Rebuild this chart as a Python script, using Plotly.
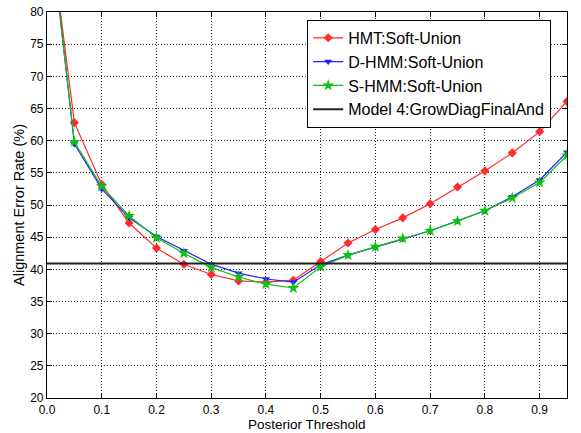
import plotly.graph_objects as go

thresholds = [0.0, 0.05, 0.1, 0.15, 0.2, 0.25, 0.3, 0.35, 0.4, 0.45, 0.5,
              0.55, 0.6, 0.65, 0.7, 0.75, 0.8, 0.85, 0.9, 0.95]
hmt = [96.5, 62.8, 53.2, 47.2, 43.3, 40.8, 39.2, 38.2, 38.0, 38.3, 41.2,
       44.1, 46.2, 48.0, 50.2, 52.8, 55.3, 58.1, 61.4, 66.1]
dhmm = [97.5, 59.5, 52.5, 48.0, 45.1, 42.9, 40.8, 39.4, 38.5, 38.0, 40.7,
        42.2, 43.4, 44.7, 46.0, 47.5, 49.1, 51.3, 53.9, 58.2]
shmm = [97.0, 59.8, 52.9, 48.3, 44.9, 42.5, 40.3, 38.8, 37.7, 37.1, 40.4,
        42.2, 43.5, 44.8, 46.0, 47.5, 49.1, 51.1, 53.5, 57.7]
model4 = 40.9

x_ticks = [0.0, 0.1, 0.2, 0.3, 0.4, 0.5, 0.6, 0.7, 0.8, 0.9]
y_ticks = [20, 25, 30, 35, 40, 45, 50, 55, 60, 65, 70, 75, 80]

fig = go.Figure()
fig.add_trace(go.Scatter(x=thresholds, y=hmt, mode="lines+markers", name="HMT:Soft-Union",
                         line=dict(color="#ff2a2a", width=1.2),
                         marker=dict(symbol="diamond", size=7, color="#ff2a2a")))
fig.add_trace(go.Scatter(x=thresholds, y=dhmm, mode="lines+markers", name="D-HMM:Soft-Union",
                         line=dict(color="#2020ff", width=1.2),
                         marker=dict(symbol="triangle-down", size=7, color="#2020ff")))
fig.add_trace(go.Scatter(x=thresholds, y=shmm, mode="lines+markers", name="S-HMM:Soft-Union",
                         line=dict(color="#10c010", width=1.2),
                         marker=dict(symbol="star", size=9, color="#10c010")))
fig.add_trace(go.Scatter(x=[thresholds[0], thresholds[-1]], y=[model4, model4], mode="lines",
                         name="Model 4:GrowDiagFinalAnd",
                         line=dict(color="#222222", width=2)))

axis_common = dict(
    showline=True, linecolor="black", linewidth=1.2, mirror="ticks",
    ticks="inside", ticklen=5, tickcolor="black",
    showgrid=True, gridcolor="rgba(0,0,0,0.85)", gridwidth=1, griddash="1px,2px",
    zeroline=False, tickfont=dict(size=12, color="black"), automargin=False,
)

fig.update_xaxes(range=[0, 0.95], tickvals=x_ticks, tickformat=".1f", **axis_common)
fig.update_yaxes(range=[20, 80], tickvals=y_ticks,
                 title=dict(text="Alignment Error Rate (%)", font=dict(size=14.5, color="black"), standoff=2),
                 **axis_common)

fig.add_annotation(text="Posterior Threshold", xref="paper", yref="paper",
                   x=0.5, y=-0.0687, xanchor="center", yanchor="middle", showarrow=False,
                   font=dict(size=13.5, color="black"))

fig.update_layout(
    width=581, height=433,
    margin=dict(l=47, r=14, t=12, b=35),
    plot_bgcolor="white", paper_bgcolor="white",
    font=dict(family="Liberation Sans, Arial, sans-serif", color="black"),
    legend=dict(x=0.5, y=0.98, xanchor="left", yanchor="top",
                bgcolor="white", bordercolor="black", borderwidth=1.2,
                font=dict(size=16, color="black"), tracegroupgap=0, itemwidth=30),
    showlegend=True,
)

fig.write_html("out.html")
